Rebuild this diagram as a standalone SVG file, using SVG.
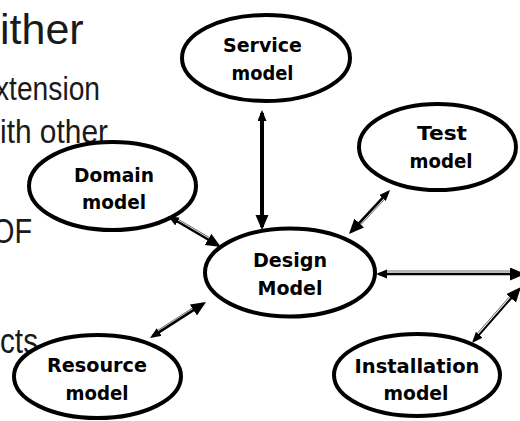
<svg xmlns="http://www.w3.org/2000/svg" width="520" height="421" viewBox="0 0 520 421">
  <style>
    .bg { font-family: "Liberation Sans Narrow", "Liberation Sans", Arial, sans-serif; fill: #1a1a1a; }
    .node ellipse { fill: #ffffff; stroke: #000000; stroke-width: 4; }
    .node text { font-family: "DejaVu Sans", Verdana, sans-serif; font-weight: bold; font-size: 20px; fill: #000000; text-anchor: middle; }
    .wire { stroke: #000000; stroke-width: 2.6; fill: none; marker-start: url(#headS); marker-end: url(#headL); }
    .wire.thick { stroke-width: 4; }
    .wire.thin { stroke-width: 2; }
    .rule { stroke: #6a6a6a; stroke-width: 1; fill: none; }
  </style>
  <defs>
    <!-- small head at the start of each link, larger head at the end -->
    <marker id="headS" markerUnits="userSpaceOnUse" markerWidth="12" markerHeight="10" refX="8" refY="4.5" orient="auto-start-reverse">
      <path d="M0,0 L11,4.5 L0,9 z" fill="#000000"/>
    </marker>
    <marker id="headL" markerUnits="userSpaceOnUse" markerWidth="16" markerHeight="14" refX="12" refY="6.5" orient="auto">
      <path d="M0,0 L15,6.5 L0,13 z" fill="#000000"/>
    </marker>
  </defs>

  <!-- slide text running behind the diagram -->
  <g id="slide-text">
    <text class="bg" x="0" y="44" font-size="43" style="font-family:'Liberation Sans', Arial, sans-serif">ither</text>
    <text class="bg" x="-5" y="100" font-size="34" textLength="105" lengthAdjust="spacingAndGlyphs">xtension</text>
    <text class="bg" x="0" y="143" font-size="34" textLength="108" lengthAdjust="spacingAndGlyphs">ith other</text>
    <text class="bg" x="-8" y="243" font-size="35" textLength="40" lengthAdjust="spacingAndGlyphs">OF</text>
    <text class="bg" x="0" y="353" font-size="35" textLength="38" lengthAdjust="spacingAndGlyphs">cts</text>
  </g>

  <!-- model nodes -->
  <g id="service-model" class="node">
    <ellipse cx="266" cy="58" rx="84" ry="43"/>
    <text x="262.5" y="52" textLength="79" lengthAdjust="spacingAndGlyphs">Service</text>
    <text x="262.5" y="80" textLength="62" lengthAdjust="spacingAndGlyphs">model</text>
  </g>
  <g id="test-model" class="node">
    <ellipse cx="437.5" cy="147" rx="78.5" ry="43"/>
    <text x="442" y="140" textLength="50" lengthAdjust="spacingAndGlyphs">Test</text>
    <text x="441" y="168" textLength="63" lengthAdjust="spacingAndGlyphs">model</text>
  </g>
  <g id="domain-model" class="node">
    <ellipse cx="112.5" cy="186" rx="83.5" ry="44"/>
    <text x="114" y="182" textLength="80" lengthAdjust="spacingAndGlyphs">Domain</text>
    <text x="114" y="209" textLength="64" lengthAdjust="spacingAndGlyphs">model</text>
  </g>
  <g id="design-model" class="node">
    <ellipse cx="290" cy="272.5" rx="85" ry="44"/>
    <text x="290" y="267" textLength="74" lengthAdjust="spacingAndGlyphs">Design</text>
    <text x="290" y="295" textLength="65" lengthAdjust="spacingAndGlyphs">Model</text>
  </g>
  <g id="resource-model" class="node">
    <ellipse cx="97.5" cy="376.5" rx="83.5" ry="41.5"/>
    <text x="97" y="372" textLength="100" lengthAdjust="spacingAndGlyphs">Resource</text>
    <text x="97" y="400" textLength="63" lengthAdjust="spacingAndGlyphs">model</text>
  </g>
  <g id="installation-model" class="node">
    <ellipse cx="417" cy="375" rx="83" ry="41"/>
    <text x="417" y="373" textLength="125" lengthAdjust="spacingAndGlyphs">Installation</text>
    <text x="416" y="400" textLength="65" lengthAdjust="spacingAndGlyphs">model</text>
  </g>

  <!-- links: thick stroke with a hairline running alongside -->
  <g id="connectors">
    <line class="wire thick" x1="262" y1="113" x2="262" y2="227"/>

    <line class="rule" x1="178.7" y1="219.6" x2="209.2" y2="237.4"/>
    <line class="wire" x1="170.6" y1="217.5" x2="218.4" y2="245.5"/>

    <line class="rule" x1="384.2" y1="199.7" x2="360.9" y2="224.6"/>
    <line class="wire" x1="388" y1="192.2" x2="351" y2="231.8"/>

    <line class="rule" x1="158.1" y1="330.1" x2="192.2" y2="308.2"/>
    <line class="wire" x1="152.5" y1="336.4" x2="203.5" y2="303.6"/>

    <line class="rule" x1="387" y1="271" x2="510" y2="271"/>
    <line class="wire" x1="379" y1="274" x2="522" y2="274"/>

    <line class="rule" x1="477.5" y1="333.2" x2="509.4" y2="296.8"/>
    <line class="wire thin" x1="474" y1="340.7" x2="519" y2="289.3"/>
  </g>
</svg>
